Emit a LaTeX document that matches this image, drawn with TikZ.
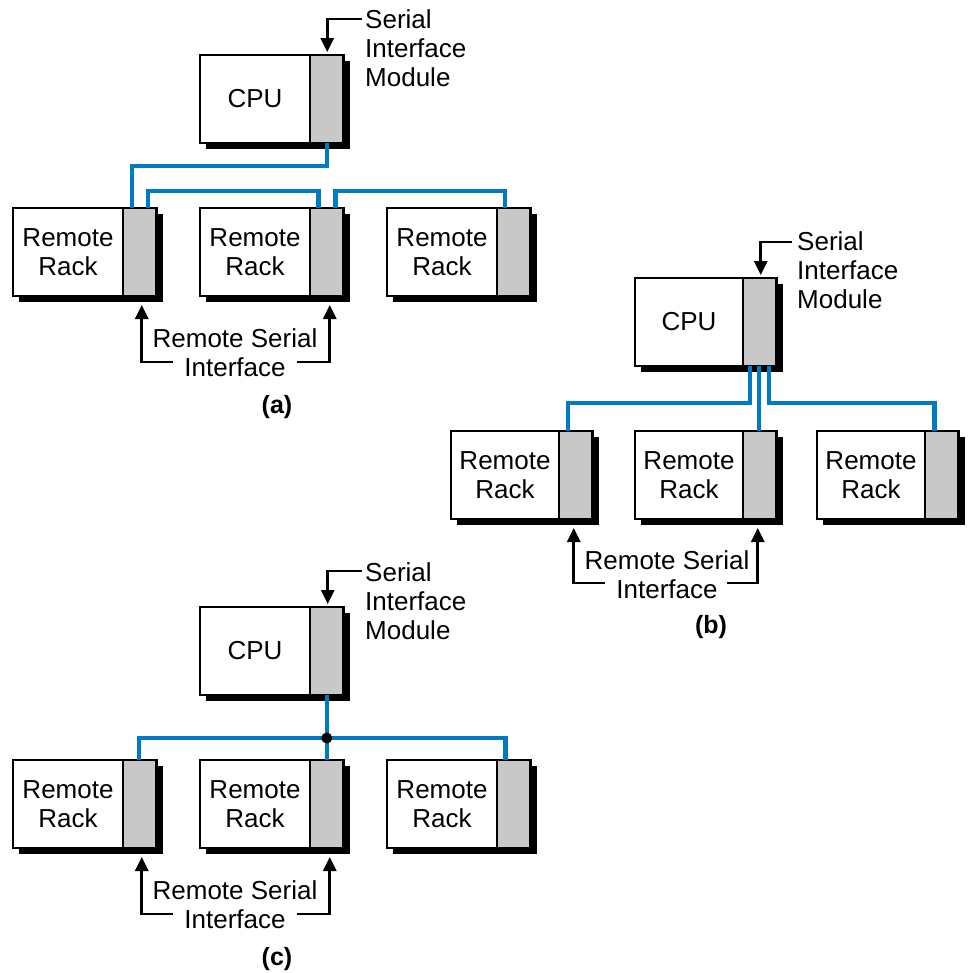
\documentclass[tikz,border=0pt]{standalone}
\usepackage{fontspec}
\setmainfont{Liberation Sans}
\usetikzlibrary{arrows.meta,calc,backgrounds}
\definecolor{busblue}{RGB}{0,122,194}
\definecolor{modgray}{RGB}{200,200,200}
\tikzset{
  mainbox/.style={draw, line width=2.8pt, fill=white, minimum height=88pt,
    inner sep=0pt, outer sep=0pt, align=center, anchor=north west,
    font=\fontsize{26}{29}\selectfont},
  modbox/.style={draw, line width=2.8pt, fill=modgray, minimum width=33.5pt,
    minimum height=88pt, inner sep=0pt, outer sep=0pt, anchor=north west},
  bus/.style={draw=busblue, line width=4.5pt},
  sigarrow/.style={line width=2.8pt, -{Triangle[length=14pt,width=13pt]}},
  lbl/.style={font=\fontsize{26}{29}\selectfont, inner sep=0pt, align=left, anchor=west},
  clbl/.style={font=\fontsize{26}{29}\selectfont, inner sep=0pt, align=center},
  caplbl/.style={font=\fontsize{25}{28}\selectfont\bfseries, inner sep=0pt},
}
\newcommand{\unitbox}[5]{%
  \node[mainbox, minimum width=#5] (#1) at (#2,#3) {#4};
  \node[modbox] (#1m) at (#1.north east) {};
  \begin{scope}[on background layer]
    \fill ($(#1.north west)+(6,6)$) rectangle ($(#1m.south east)+(6,6)$);
  \end{scope}}
\begin{document}
\begin{tikzpicture}[x=1pt,y=-1pt]
\useasboundingbox (0,0) rectangle (973,972);

% ---------------- (a) ----------------
\unitbox{acpu}{200}{55}{CPU}{110pt}
\unitbox{ar1}{13}{208}{Remote\\Rack}{110pt}
\unitbox{ar2}{200}{208}{Remote\\Rack}{110pt}
\unitbox{ar3}{387}{208}{Remote\\Rack}{110pt}
\node[lbl] (asl) at (365,48) {Serial\\Interface\\Module};
\coordinate (asa) at (362,19);
\draw[sigarrow] (asa) -| ($(acpum.north)+(0.5,-3)$);
\draw[bus] (acpum.south) -- ++(0,23) -| ($(ar1m.north)+(-8,0)$);
\draw[bus] ($(ar1m.north)+(8,0)$) -- ++(0,-17) -| ($(ar2m.north)+(-8.5,0)$);
\draw[bus] ($(ar2m.north)+(8.5,0)$) -- ++(0,-17) -| ($(ar3m.north)+(-9,0)$);
\node[clbl] (arsi) at (235,353) {Remote Serial\\Interface};
\coordinate (arl) at (173,362);
\coordinate (arr) at (297,362);
\draw[sigarrow] (arl) -| ($(ar1m.south)+(2,9)$);
\draw[sigarrow] (arr) -| ($(ar2m.south)+(3,9)$);
\node[caplbl] (acap) at (277,407) {(a)};

% ---------------- (b) ----------------
\unitbox{bcpu}{635}{278}{CPU}{108pt}
\unitbox{br1}{451}{431}{Remote\\Rack}{108pt}
\unitbox{br2}{635}{431}{Remote\\Rack}{108pt}
\unitbox{br3}{817}{431}{Remote\\Rack}{108pt}
\node[lbl] (bsl) at (797,270) {Serial\\Interface\\Module};
\coordinate (bsa) at (792,242);
\draw[sigarrow] (bsa) -| ($(bcpum.north)+(1,-3)$);
\draw[bus] ($(bcpum.south)+(-10,0)$) -- ++(0,37) -| ($(br1m.north)+(-8,0)$);
\draw[bus] ($(bcpum.south)+(-1,0)$) -- ($(br2m.north)+(-1,0)$);
\draw[bus] ($(bcpum.south)+(9,0)$) -- ++(0,37) -| ($(br3m.north)+(-7.5,0)$);
\node[clbl] (brsi) at (667,575) {Remote Serial\\Interface};
\coordinate (brl) at (605,583);
\coordinate (brr) at (727,583);
\draw[sigarrow] (brl) -| ($(br1m.south)+(-2,9)$);
\draw[sigarrow] (brr) -| ($(br2m.south)+(-2,9)$);
\node[caplbl] (bcap) at (711,627) {(b)};

% ---------------- (c) ----------------
\unitbox{ccpu}{200}{607}{CPU}{110pt}
\unitbox{cr1}{13}{760}{Remote\\Rack}{110pt}
\unitbox{cr2}{200}{760}{Remote\\Rack}{110pt}
\unitbox{cr3}{387}{760}{Remote\\Rack}{110pt}
\node[lbl] (csl) at (365,601) {Serial\\Interface\\Module};
\coordinate (csa) at (362,571);
\draw[sigarrow] (csa) -| ($(ccpum.north)+(1,-3)$);
\coordinate (cj) at (326.75,738);
\draw[bus] (ccpum.south) -- (cr2m.north);
\draw[bus] ($(cr1m.north)+(-1,0)$) |- (cj) -| ($(cr3m.north)+(-8.5,0)$);
\fill (cj) circle (5.5);
\node[clbl] (crsi) at (235,905) {Remote Serial\\Interface};
\coordinate (crl) at (173,914);
\coordinate (crr) at (297,914);
\draw[sigarrow] (crl) -| ($(cr1m.south)+(2,9)$);
\draw[sigarrow] (crr) -| ($(cr2m.south)+(3,9)$);
\node[caplbl] (ccap) at (277,959) {(c)};
\end{tikzpicture}
\end{document}
